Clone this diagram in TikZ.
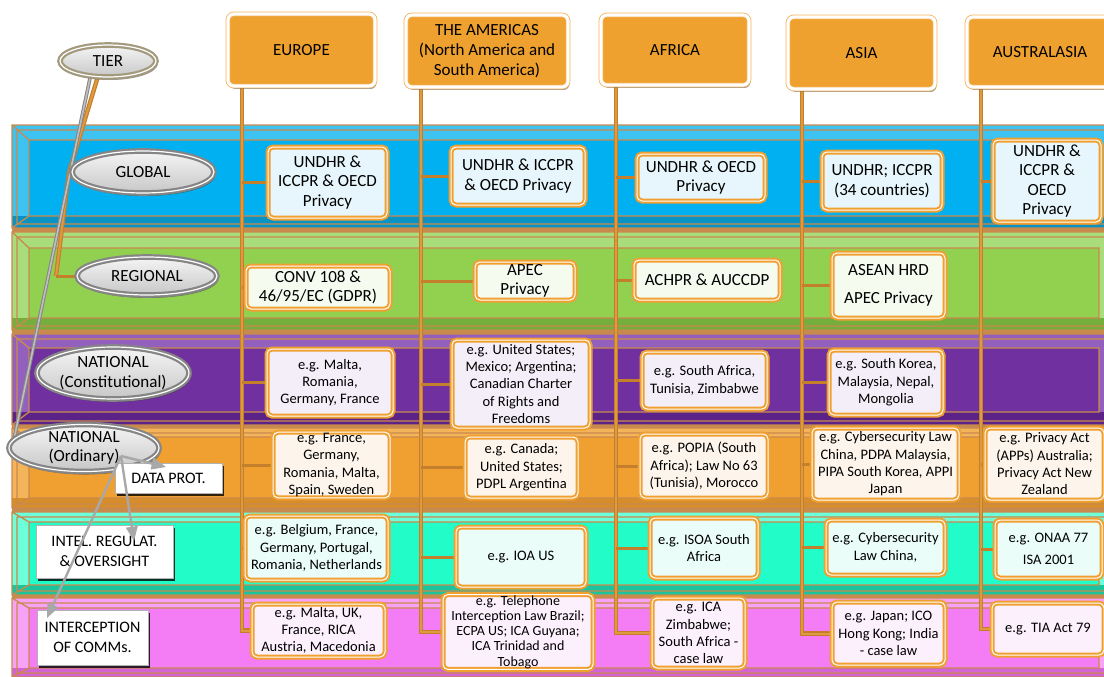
\documentclass[tikz,border=0pt]{standalone}
\usepackage{fontspec}
\setmainfont{Carlito}
\usetikzlibrary{shadows,arrows,shapes.geometric}

\definecolor{globL}{HTML}{3CC3F2}
\definecolor{globM}{HTML}{00B0F0}
\definecolor{globD}{HTML}{0893C4}
\definecolor{globT}{HTML}{E6F6FC}
\definecolor{regiL}{HTML}{A9DC7A}
\definecolor{regiM}{HTML}{92D050}
\definecolor{regiD}{HTML}{74AE3C}
\definecolor{regiT}{HTML}{F6FBF0}
\definecolor{nconL}{HTML}{9460BE}
\definecolor{nconM}{HTML}{7030A0}
\definecolor{nconD}{HTML}{5B2287}
\definecolor{nconT}{HTML}{F3EEF8}
\definecolor{nordL}{HTML}{F4B45A}
\definecolor{nordM}{HTML}{EFA030}
\definecolor{nordD}{HTML}{D68D2A}
\definecolor{nordT}{HTML}{FDF5EB}
\definecolor{intlL}{HTML}{6CFFDA}
\definecolor{intlM}{HTML}{22FCC8}
\definecolor{intlD}{HTML}{1CC49E}
\definecolor{intlT}{HTML}{EAFDF8}
\definecolor{intcL}{HTML}{F7A2F7}
\definecolor{intcM}{HTML}{F47CF4}
\definecolor{intcD}{HTML}{D464D4}
\definecolor{intcT}{HTML}{FDF0FD}
\definecolor{bandframe}{HTML}{C98A4E}
\definecolor{colbrown}{HTML}{C47F2C}
\definecolor{collight}{HTML}{E09A3E}
\definecolor{boxorange}{HTML}{F0A030}
\definecolor{hdrorange}{HTML}{EFA12F}
\definecolor{tiergrey}{HTML}{858585}
\definecolor{tierkhaki}{HTML}{A39A7E}
\definecolor{arrowgrey}{HTML}{A8A8A8}

\pgfdeclarelayer{back}
\pgfdeclarelayer{mid}
\pgfsetlayers{back,mid,main}

\begin{document}
\begin{tikzpicture}[x=1pt,y=-1pt,
                    lawbox/.style={draw=boxorange, double=white,
                    line width=2pt, double distance=1pt,
                    rounded corners=5pt, fill=#1, align=center,
                    inner sep=1pt, font=\fontsize{14.5}{17.3}\selectfont},
                    bigtxt/.style={font=\fontsize{17}{19.5}\selectfont},
                    hdr/.style={fill=hdrorange, draw=boxorange!80, double=white,
                    line width=.8pt, double distance=3.2pt, rounded corners=6pt,
                    drop shadow={shadow xshift=1.5pt,shadow yshift=-3pt,fill=black!75},
                    align=center, inner sep=2pt, font=\fontsize{17}{20}\selectfont},
                    tier/.style={ellipse, draw=#1, double=white, line width=2.2pt,
                    double distance=1.2pt, top color=black!4, bottom color=black!22,
                    drop shadow={shadow xshift=1.5pt,shadow yshift=-3pt,fill=black!80},
                    align=center, inner sep=0pt, font=\fontsize{17}{19.5}\selectfont},
                    subbox/.style={fill=white, draw=black!30, line width=.4pt,
                    drop shadow={shadow xshift=2pt,shadow yshift=-2.5pt,fill=black,opacity=.8},
                    align=center, inner sep=1pt, font=\fontsize{16}{20}\selectfont},
                    bandline/.style={draw=bandframe, line width=1.3pt},
                    colline/.style={draw=colbrown, double=collight, line width=1.2pt,
                    double distance=2pt},
                    stub/.style={draw=colbrown, line width=3pt},
                    tierline/.style={draw=tiergrey, double=black!25, line width=1pt,
                    double distance=1.6pt},
                    subarrow/.style={draw=arrowgrey, line width=2.4pt, -triangle 45}]
    \useasboundingbox (0,0) rectangle (1104,677);

    % tier bands
    \begin{pgfonlayer}{back}
    \fill[bandframe] (12,125) rectangle (1110,677);
    \foreach \ya/\yb/\yc/\yd/\bc in {125/140/216/228/glob, 232/248/318/330/regi,
        334/348/412/425/ncon, 428/437/498/508/nord, 512/522/585/595/intl,
        598/608/668/677/intc}{
        \fill[fill=\bc L] (12,\ya) rectangle (1110,\yd);
        \fill[fill=\bc D] (12,\yc) rectangle (1110,\yd);
        \fill[fill=\bc M] (29,\yb) rectangle (1099,\yc);
        \draw[bandline] (12,\ya) rectangle (1110,\yd)
            (29,\yb) rectangle (1099,\yc)
            (12,\ya) -- (29,\yb) (12,\yd) -- (29,\yc)
            (17,\ya+5) -- (1110,\ya+5) (17,\ya+5) -- (17,\yd-4) -- (1110,\yd-4);
    }
    \end{pgfonlayer}

    % regions
    \node[hdr, minimum width=147pt, minimum height=72pt] (hEU) at (301.5,50) {EUROPE};
    \node[hdr, minimum width=162pt, minimum height=72pt] (hAM) at (487,51)
        {THE AMERICAS\\(North America and\\South America)};
    \node[hdr, minimum width=148pt, minimum height=70pt] (hAF) at (675,50) {AFRICA};
    \node[hdr, minimum width=147pt, minimum height=72pt] (hAS) at (861.5,53) {ASIA};
    \node[hdr, minimum width=146pt, minimum height=70pt] (hAU) at (1040,52) {AUSTRALASIA};
    \coordinate (eTop) at (242,86);
    \coordinate (aTop) at (421,86);
    \coordinate (fTop) at (616,86);
    \coordinate (sTop) at (802,88);
    \coordinate (uTop) at (981,88);

    % global
    \node[lawbox=globT, bigtxt, minimum width=119pt, minimum height=71pt] (gEU) at (327.5,182.5)
        {UNDHR \&\\ICCPR \& OECD\\Privacy};
    \node[lawbox=globT, bigtxt, minimum width=134pt, minimum height=58pt] (gAM) at (518,176)
        {UNDHR \& ICCPR\\\& OECD Privacy};
    \node[lawbox=globT, bigtxt, minimum width=128pt, minimum height=47pt] (gAF) at (701,177.5)
        {UNDHR \& OECD\\Privacy};
    \node[lawbox=globT, bigtxt, minimum width=120pt, minimum height=58pt] (gAS) at (882,181)
        {UNDHR; ICCPR\\(34 countries)};
    \node[lawbox=globT, bigtxt, minimum width=108pt, minimum height=82pt] (gAU) at (1047,181)
        {UNDHR \&\\ICCPR \&\\OECD\\Privacy};

    % regional
    \node[lawbox=regiT, bigtxt, minimum width=144pt, minimum height=43pt] (rEU) at (318,287.5)
        {CONV 108 \&\\46/95/EC (GDPR)};
    \node[lawbox=regiT, bigtxt, minimum width=100pt, minimum height=38pt] (rAM) at (525,281)
        {APEC\\Privacy};
    \node[lawbox=regiT, bigtxt, minimum width=146pt, minimum height=40pt] (rAF) at (707,280)
        {ACHPR \& AUCCDP};
    \node[lawbox=regiT, bigtxt, minimum width=113pt, minimum height=65pt] (rAS) at (888.5,285.5)
        {ASEAN HRD\\[9pt]APEC Privacy};

    % national, constitutional
    \node[lawbox=nconT, minimum width=126pt, minimum height=67pt] (cEU) at (330,382.5)
        {e.g. Malta,\\Romania,\\Germany, France};
    \node[lawbox=nconT, minimum width=138pt, minimum height=88pt] (cAM) at (521,384)
        {e.g. United States;\\Mexico; Argentina;\\Canadian Charter\\of Rights and\\Freedoms};
    \node[lawbox=nconT, minimum width=125pt, minimum height=57pt] (cAF) at (704.5,380.5)
        {e.g. South Africa,\\Tunisia, Zimbabwe};
    \node[lawbox=nconT, minimum width=114pt, minimum height=65pt] (cAS) at (886,382.5)
        {e.g. South Korea,\\Malaysia, Nepal,\\Mongolia};

    % national, ordinary
    \node[lawbox=nordT, minimum width=117pt, minimum height=64pt] (oEU) at (331.5,465)
        {e.g. France,\\Germany,\\Romania, Malta,\\Spain, Sweden};
    \node[lawbox=nordT, minimum width=113pt, minimum height=61pt] (oAM) at (521.5,467.5)
        {e.g. Canada;\\United States;\\PDPL Argentina};
    \node[lawbox=nordT, minimum width=128pt, minimum height=64pt] (oAF) at (704,466)
        {e.g. POPIA (South\\Africa); Law No 63\\(Tunisia), Morocco};
    \node[lawbox=nordT, minimum width=147pt, minimum height=72pt] (oAS) at (885.5,464)
        {e.g. Cybersecurity Law\\China, PDPA Malaysia,\\PIPA South Korea, APPI\\Japan};
    \node[lawbox=nordT, minimum width=119pt, minimum height=72pt] (oAU) at (1044.5,464)
        {e.g. Privacy Act\\(APPs) Australia;\\Privacy Act New\\Zealand};

    % intelligence
    \node[lawbox=intlT, minimum width=143pt, minimum height=64pt] (iEU) at (316.5,548)
        {e.g. Belgium, France,\\Germany, Portugal,\\Romania, Netherlands};
    \node[lawbox=intlT, minimum width=130pt, minimum height=60pt] (iAM) at (521,557)
        {e.g. IOA US};
    \node[lawbox=intlT, minimum width=108pt, minimum height=60pt] (iAF) at (704,548)
        {e.g. ISOA South\\Africa};
    \node[lawbox=intlT, minimum width=119pt, minimum height=55pt] (iAS) at (885.5,547.5)
        {e.g. Cybersecurity\\Law China,};
    \node[lawbox=intlT, minimum width=107pt, minimum height=58pt] (iAU) at (1048.5,549)
        {e.g. ONAA 77\\[5pt]ISA 2001};

    % interception
    \node[lawbox=intcT, minimum width=133pt, minimum height=53pt] (xEU) at (318.5,630.5)
        {e.g. Malta, UK,\\France, RICA\\Austria, Macedonia};
    \node[lawbox=intcT, minimum width=150pt, minimum height=70pt,
          font=\fontsize{14}{15.2}\selectfont] (xAM) at (518,632)
        {e.g. Telephone\\Interception Law Brazil;\\ECPA US; ICA Guyana;\\ICA Trinidad and\\Tobago};
    \node[lawbox=intcT, minimum width=93pt, minimum height=70pt] (xAF) at (698.5,633)
        {e.g. ICA\\Zimbabwe;\\South Africa -\\case law};
    \node[lawbox=intcT, minimum width=113pt, minimum height=63pt] (xAS) at (888.5,633.5)
        {e.g. Japan; ICO\\Hong Kong; India\\- case law};
    \node[lawbox=intcT, minimum width=112pt, minimum height=52pt] (xAU) at (1048,629)
        {e.g. TIA Act 79};

    \begin{pgfonlayer}{mid}
    \foreach \ctop/\rows/\last in {eTop/{gEU,rEU,cEU,oEU,iEU}/xEU,
        aTop/{gAM,rAM,cAM,oAM,iAM}/xAM, fTop/{gAF,rAF,cAF,oAF,iAF}/xAF,
        sTop/{gAS,rAS,cAS,oAS,iAS}/xAS, uTop/{gAU,oAU,iAU}/xAU}{
        \draw[colline] (\ctop) |- (\last.west);
        \foreach \b in \rows
            \draw[stub] (\ctop |- \b.west) -- (\b.west);
    }
    \end{pgfonlayer}

    % tiers
    \node[tier=tierkhaki, minimum width=96pt, minimum height=32pt] (tTier) at (108,61) {TIER};
    \node[tier=tiergrey, minimum width=142pt, minimum height=42pt] (tGlo) at (143,172) {GLOBAL};
    \node[tier=tiergrey, minimum width=140pt, minimum height=38pt] (tReg) at (147,276) {REGIONAL};
    \node[tier=tiergrey, minimum width=152pt, minimum height=52pt] (tNC) at (113,373)
        {NATIONAL\\(Constitutional)};
    \node[tier=tiergrey, minimum width=150pt, minimum height=44pt] (tNO) at (84,448)
        {NATIONAL\\(Ordinary)};
    \coordinate (tjA) at (69,172);
    \coordinate (tjB) at (56,276);
    \begin{pgfonlayer}{mid}
        \draw[colline] (tTier.238) -- (tjA) -- (tjB);
        \draw[stub] (tjA) -- (tGlo.west);
        \draw[stub] (tjB) -- (tReg.west);
        \draw[tierline] (tTier.222) -- (tNO.172);
    \end{pgfonlayer}

    \node[subbox, minimum width=107pt, minimum height=30pt] (sDP) at (168.5,478) {DATA PROT.};
    \node[subbox, minimum width=137pt, minimum height=53pt] (sIR) at (104.5,551.5)
        {INTEL. REGULAT.\\\& OVERSIGHT};
    \node[subbox, minimum width=111pt, minimum height=55pt] (sIC) at (92.5,637.5)
        {INTERCEPTION\\OF COMMs.};

    \coordinate (noFork) at (121,456);
    \coordinate (dpTip) at (166,467);
    \coordinate (irTip) at (134,541);
    \coordinate (icTip) at (47,618);
    \draw[subarrow] (noFork) -- (dpTip);
    \draw[subarrow] (noFork) -- (irTip);
    \draw[subarrow] (noFork) -- (icTip);
\end{tikzpicture}
\end{document}
